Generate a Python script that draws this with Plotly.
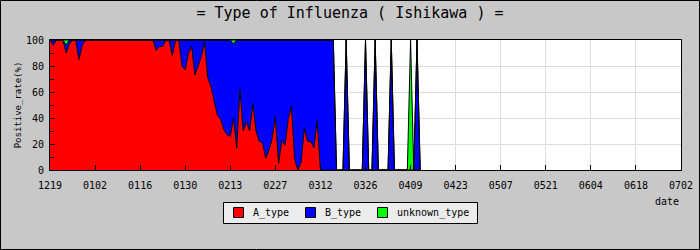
import pandas as pd
import plotly.graph_objects as go

start_date = "2019-12-19"

# daily positive rate (%), from 2019-12-19
a_type = [100, 96, 100, 100, 100, 90, 97, 100, 100, 85, 96,
          100, 100, 100, 100, 100, 100, 100, 100, 100, 100, 100,
          100, 100, 100, 100, 100, 100, 100, 100, 100, 100, 100,
          92, 95, 95, 100, 100, 88, 100, 100, 80, 77, 90, 95,
          73, 80, 87, 99, 71, 64, 53, 42, 39, 31, 27, 26, 40, 17,
          62, 30, 37, 30, 51, 30, 22, 21, 9, 15, 24, 41, 5, 23,
          19, 39, 49, 8, 0, 6, 32, 22, 22, 17, 38, 0, 0, 0, 0, 0,
          0, 0, 0, 0, 0, 0, 0, 0, 0, 0, 0, 0, 0, 0, 0, 0, 0,
          0, 0, 0, 0, 0, 0, 0, 0, 0, 0]
b_type = [0, 4, 0, 0, 0, 6, 3, 0, 0, 15, 4,
          0, 0, 0, 0, 0, 0, 0, 0, 0, 0, 0,
          0, 0, 0, 0, 0, 0, 0, 0, 0, 0, 0,
          8, 5, 5, 0, 0, 12, 0, 0, 20, 23, 10, 5,
          27, 20, 13, 1, 29, 36, 47, 58, 61, 69, 73, 74, 57, 83,
          38, 70, 63, 70, 49, 70, 78, 79, 91, 85, 76, 59, 95, 77,
          81, 61, 51, 92, 100, 94, 68, 78, 78, 83, 62, 100, 100, 100, 100, 100,
          0, 0, 0, 100, 0, 0, 0, 0, 0, 100, 0, 0, 100, 0, 0, 0, 0,
          100, 0, 0, 0, 0, 0, 0, 0, 100, 0]
unknown_type = [0, 0, 0, 0, 0, 4, 0, 0, 0, 0, 0,
                0, 0, 0, 0, 0, 0, 0, 0, 0, 0, 0,
                0, 0, 0, 0, 0, 0, 0, 0, 0, 0, 0,
                0, 0, 0, 0, 0, 0, 0, 0, 0, 0, 0, 0,
                0, 0, 0, 0, 0, 0, 0, 0, 0, 0, 0, 0, 3, 0,
                0, 0, 0, 0, 0, 0, 0, 0, 0, 0, 0, 0, 0, 0,
                0, 0, 0, 0, 0, 0, 0, 0, 0, 0, 0, 0, 0, 0, 0, 0,
                0, 0, 0, 0, 0, 0, 0, 0, 0, 0, 0, 0, 0, 0, 0, 0, 0,
                0, 0, 0, 0, 0, 0, 100, 0, 0, 0]

series_names = ["A_type", "B_type", "unknown_type"]
series_colors = ["#ff0000", "#0000ff", "#00ff00"]

dates = pd.date_range(start_date, periods=len(a_type), freq="D")

FONT = "DejaVu Sans Mono"
W, H = 700, 250
ML, MR, MT, MB = 50, 19, 40, 80
PW, PH = W - ML - MR, H - MT - MB


def px(xpix):
    return (xpix - ML) / PW


def py(ypix):
    return 1 - (ypix - MT) / PH


fig = go.Figure()
for name, vals, col in zip(series_names, [a_type, b_type, unknown_type], series_colors):
    fig.add_trace(go.Scatter(
        x=dates, y=vals, name=name, mode="lines", stackgroup="one",
        line=dict(color="black", width=1), fillcolor=col,
        showlegend=False, hoverinfo="skip"))

fig.update_layout(
    width=W, height=H,
    margin=dict(l=ML, r=MR, t=MT, b=MB, autoexpand=False),
    paper_bgcolor="#c8c8c8", plot_bgcolor="white",
    font=dict(family=FONT, size=10, color="black"),
    title=dict(text="= Type of Influenza ( Ishikawa ) =",
               x=0.5, xanchor="center", xref="container",
               y=1 - 13 / H, yanchor="middle", yref="container",
               font=dict(family=FONT, size=15, color="black")),
    showlegend=False,
)
fig.update_xaxes(
    type="date", range=["2019-12-19", "2020-07-02"],
    tick0="2019-12-19", dtick=14 * 86400000, tickformat="%m%d",
    ticks="inside", ticklen=5, tickcolor="black", automargin=False,
    ticklabelstandoff=6,
    showline=True, linecolor="black", linewidth=1, mirror=True,
    showgrid=True, gridcolor="#dcdcdc", zeroline=False, tickfont=dict(size=10))
fig.update_yaxes(
    range=[0, 100], dtick=20, ticks="inside", ticklen=5, tickcolor="black",
    minor=dict(dtick=10, ticks="inside", ticklen=4, tickcolor="black", showgrid=False),
    showline=True, linecolor="black", linewidth=1, mirror=True,
    showgrid=True, gridcolor="#dcdcdc", zeroline=False, automargin=False,
    ticklabelstandoff=3,
    title=dict(text="Positive_rate(%)", font=dict(size=9), standoff=2),
    tickfont=dict(size=10))

fig.add_annotation(text="date", xref="paper", yref="paper",
                   x=1 + 0 / PW, y=-31 / PH, xanchor="right", yanchor="middle",
                   showarrow=False, font=dict(family=FONT, size=10))

# legend box (drawn manually for exact sizing)
fig.add_shape(type="rect", xref="paper", yref="paper",
              x0=px(223.5), x1=px(477.5), y0=py(223.5), y1=py(202.5),
              line=dict(color="black", width=1), fillcolor="#ececec", layer="above")
legend_x = [233.5, 305.5, 377.5]
for lx, name, col in zip(legend_x, series_names, series_colors):
    fig.add_shape(type="rect", xref="paper", yref="paper",
                  x0=px(lx), x1=px(lx + 10), y0=py(217.5), y1=py(207.5),
                  line=dict(color="black", width=1), fillcolor=col, layer="above")
    fig.add_annotation(text=name, xref="paper", yref="paper",
                       x=px(lx + 17), y=py(212.5), xanchor="left", yanchor="middle",
                       showarrow=False, font=dict(family=FONT, size=10))

# outer frame
fig.add_shape(type="rect", xref="paper", yref="paper",
              x0=(-ML + 0.5) / PW, x1=1 + (MR - 0.5) / PW,
              y0=(-MB + 0.5) / PH, y1=1 + (MT - 0.5) / PH,
              line=dict(color="black", width=1), layer="above")

fig.write_html("out.html")
